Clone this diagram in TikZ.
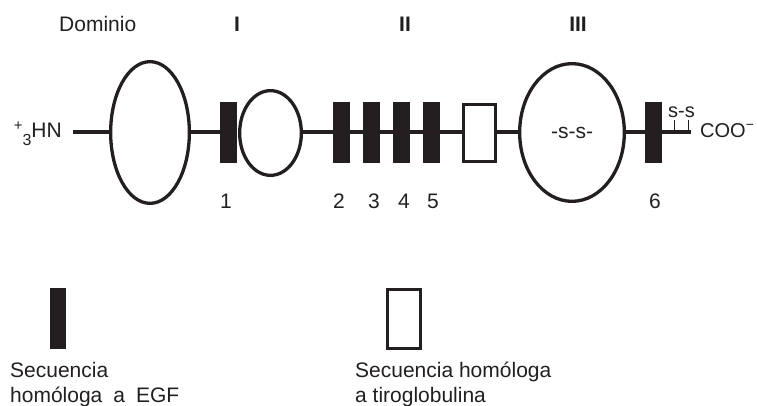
\documentclass[tikz,border=0pt]{standalone}
\usepackage{fontspec}
\setmainfont{Liberation Sans}
\usetikzlibrary{shapes.geometric,calc}
\definecolor{ink}{HTML}{231F20}
\begin{document}
\begin{tikzpicture}[x=1pt,y=-1pt,
  lw/.style={line width=3.3pt, draw=ink},
  oval/.style={ellipse, lw, fill=white, inner sep=0pt},
  egf/.style={rectangle, fill=ink, minimum width=17pt, minimum height=61pt, inner sep=0pt},
  tg/.style={rectangle, lw, fill=white, minimum width=31.7pt, minimum height=57pt, inner sep=0pt},
  lbl/.style={font=\fontsize{21}{24}\selectfont, text=ink, inner sep=0pt},
  hdr/.style={font=\fontsize{21}{24}\selectfont\bfseries, text=ink, inner sep=0pt},
  conn/.style={line width=3.3pt, draw=ink},
  tick/.style={line width=1pt, draw=ink}]
\useasboundingbox (0,0) rectangle (757,406);

% headers
\node[lbl, anchor=base west] (dom) at (59,32) {Dominio};
\node[hdr, anchor=base] (dI) at (237,32) {I};
\node[hdr, anchor=base] (dII) at (405,32) {II};
\node[hdr, anchor=base] (dIII) at (578,32) {III};

% ends
\node[lbl, anchor=base east] (hn) at (62,138)
  {\raisebox{7pt}{\fontsize{15}{15}\selectfont +}\raisebox{-8pt}{\fontsize{16}{16}\selectfont 3}HN};
\coordinate (start) at (73,132);
\coordinate (stop) at (691,132);
\node[lbl, anchor=base west, font=\fontsize{20}{24}\selectfont] (coo) at (700,138)
  {COO\raisebox{8pt}{\fontsize{14}{14}\selectfont −}};

% domains
\node[oval, minimum width=78.7pt, minimum height=141.7pt] (e1) at (150,132.5) {};
\node[egf] (r1) at (228.5,132.5) {};
\node[oval, minimum width=61.7pt, minimum height=84.7pt] (c1) at (270.5,133) {};
\node[egf] (r2) at (341.5,132.5) {};
\node[egf] (r3) at (371.5,132.5) {};
\node[egf] (r4) at (401.5,132.5) {};
\node[egf] (r5) at (431.5,132.5) {};
\node[tg] (tg1) at (479.5,133) {};
\node[oval, minimum width=104.7pt, minimum height=137.7pt, lbl] (e3) at (572,132.5) {-s-s-};
\node[egf] (r6) at (653.5,132.5) {};

% connectors
\draw[conn] (start) -- (start -| e1.west);
\draw[conn] (e1.east |- start) -- (r1.west |- start);
\draw[conn] (c1.east |- start) -- (r2.west |- start);
\draw[conn] (r2.east |- start) -- (r3.west |- start);
\draw[conn] (r3.east |- start) -- (r4.west |- start);
\draw[conn] (r4.east |- start) -- (r5.west |- start);
\draw[conn] (r5.east |- start) -- (tg1.west |- start);
\draw[conn] (tg1.east |- start) -- (e3.west |- start);
\draw[conn] (e3.east |- start) -- (r6.west |- start);
\draw[conn] (r6.east |- start) -- (stop);

% disulfide
\node[lbl, anchor=base, font=\fontsize{20}{24}\selectfont] (ss) at (681.5,118) {s-s};
\draw[tick] ($(ss.south)+(-7,2)$) -- ($(ss.south)+(-7,12)$);
\draw[tick] ($(ss.south)+(7,2)$) -- ($(ss.south)+(7,12)$);

% numbers
\node[lbl, anchor=base] (n1) at (226,208) {1};
\node[lbl, anchor=base] (n2) at (339,208) {2};
\node[lbl, anchor=base] (n3) at (374,208) {3};
\node[lbl, anchor=base] (n4) at (404,208) {4};
\node[lbl, anchor=base] (n5) at (433,208) {5};
\node[lbl, anchor=base] (n6) at (655,208) {6};

% legend
\node[egf, minimum width=16pt, minimum height=61pt] (legf) at (58,318.5) {};
\node[tg, minimum width=32.7pt, minimum height=58.7pt] (ltg) at (404,319) {};
\node[lbl, anchor=base west] (t1a) at (10,377) {Secuencia};
\node[lbl, anchor=base west] (t1b) at (10,402) {homóloga\hspace{11pt}a\hspace{11pt}EGF};
\node[lbl, anchor=base west] (t2a) at (355,377) {Secuencia homóloga};
\node[lbl, anchor=base west] (t2b) at (355,402) {a tiroglobulina};
\end{tikzpicture}
\end{document}
